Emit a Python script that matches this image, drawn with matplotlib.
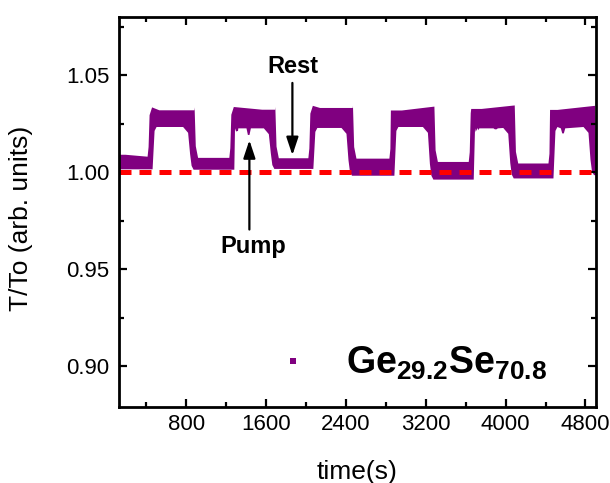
import matplotlib.pyplot as plt
from matplotlib.lines import Line2D
from matplotlib.ticker import MultipleLocator

plt.rcParams['font.family'] = ['Liberation Sans', 'DejaVu Sans']
plt.rcParams['mathtext.fontset'] = 'custom'
plt.rcParams['mathtext.bf'] = 'Liberation Sans:bold'
plt.rcParams['mathtext.rm'] = 'Liberation Sans'

# pump on / off switching (outer edges, seconds)
rise_t = [422, 1241, 2033, 2845, 3640, 4439]
fall_t = [883, 1692, 2470, 3286, 4091, 4895]
# band envelope of the noisy T/To trace
high_top = [1.0334, 1.0336, 1.0342, 1.0338, 1.0344, 1.0342]
high_bot = [1.0233, 1.0226, 1.0228, 1.0233, 1.0228, 1.0233]
low_top = [1.0080, 1.0074, 1.0072, 1.0070, 1.0053, 1.0045, 1.0040]
low_bot = [1.0015, 1.0013, 1.0017, 0.9982, 0.9962, 0.9968, 0.9985]
# lower spots on the top edge of the high level: start, end, value
top_notch_a = [530, 745, 1560, 2140, 2850, 3655, 4445]
top_notch_b = [625, 880, 1690, 2468, 2960, 3760, 4520]
top_notch_v = [1.0319, 1.0319, 1.0322, 1.0331, 1.0318, 1.0326, 1.0321]
# deeper noise spikes under the high level: centre, value
dip_t = [1310, 1425, 3715, 3900, 4575]
dip_v = [1.0212, 1.0192, 1.0216, 1.0221, 1.0200]

t_start, t_end = 125, 4960
purple = '#800080'

# outline of the thick trace built from the values above
up = [(t_start, low_top[0] + 0.001), (190, low_top[0] + 0.001)]
lo = [(t_start, low_bot[0])]
for i in range(len(rise_t)):
    tr, tf = rise_t[i], fall_t[i]
    up += [(tr - 10, low_top[i]), (tr, low_top[i] + 0.005), (tr + 10, high_top[i] - 0.004),
           (tr + 35, high_top[i]), (tf, high_top[i]), (tf + 12, low_top[i + 1] + 0.006),
           (tf + 35, low_top[i + 1])]
    lo += [(tr + 40, low_bot[i]), (tr + 60, high_bot[i] - 0.002), (tr + 80, high_bot[i]),
           (tf - 115, high_bot[i]), (tf - 65, high_bot[i] - 0.003), (tf - 45, low_bot[i + 1] + 0.008),
           (tf - 30, low_bot[i + 1] + 0.002), (tf - 10, low_bot[i + 1])]
up += [(t_end, low_top[-1])]
lo += [(t_end, low_bot[-1])]

for a, b, v in zip(top_notch_a, top_notch_b, top_notch_v):
    up = [p for p in up if not (a <= p[0] <= b)]
    up += [(a, v), (b, v)]
up.sort()
for t, v in zip(dip_t, dip_v):
    lo += [(t - 22, 1.0226), (t - 8, v), (t + 8, v), (t + 22, 1.0226)]
lo.sort()
poly = up + lo[::-1]

fig = plt.figure(figsize=(6.1, 4.83), dpi=100)
ax = fig.add_axes([0.195, 0.157, 0.782, 0.808])

ax.fill([p[0] for p in poly], [p[1] for p in poly], color=purple, lw=0)
ax.axhline(1.0, color='red', lw=3.6, ls=(0, (2.4, 1.6)))

# annotations
arrow = dict(arrowstyle='-|>,head_length=0.6,head_width=0.2', mutation_scale=18,
             lw=1.6, color='black', shrinkA=0, shrinkB=0)
ax.annotate('', xy=(1863, 1.0088), xytext=(1863, 1.046), arrowprops=arrow)
ax.text(1870, 1.0512, 'Rest', fontsize=17, fontweight='bold', ha='center', va='baseline')
ax.annotate('', xy=(1432, 1.0165), xytext=(1432, 0.9705), arrowprops=arrow)
ax.text(1472, 0.9586, 'Pump', fontsize=17, fontweight='bold', ha='center', va='baseline')

ax.set_xlim(125, 4905)
ax.set_ylim(0.879, 1.080)
ax.xaxis.set_major_locator(MultipleLocator(800))
ax.xaxis.set_minor_locator(MultipleLocator(400))
ax.yaxis.set_major_locator(MultipleLocator(0.05))
ax.yaxis.set_minor_locator(MultipleLocator(0.025))
ax.yaxis.set_major_formatter(plt.FormatStrFormatter('%.2f'))
ax.tick_params(which='both', direction='in', top=True, right=True, width=1.6, labelsize=16)
ax.tick_params(which='major', length=6)
ax.tick_params(axis='y', which='major', pad=7)
ax.tick_params(axis='x', which='major', pad=5)
ax.tick_params(which='minor', length=3.5)
for s in ax.spines.values():
    s.set_linewidth(2)

ax.set_xlabel('time(s)', fontsize=19, labelpad=18)
ax.set_ylabel('T/To (arb. units)', fontsize=19)
ax.yaxis.set_label_coords(-0.18, 0.485)

handle = Line2D([], [], marker='s', ls='', color=purple, ms=4.3, mew=0)
ax.legend([handle], [r'$\mathbf{Ge_{29.2}Se_{70.8}}$'], loc='center left',
          bbox_to_anchor=(0.326, 0.112), frameon=False, fontsize=27,
          handlelength=1.0, handletextpad=0.9, borderpad=0, borderaxespad=0)

fig.savefig('out.png', dpi=100)
